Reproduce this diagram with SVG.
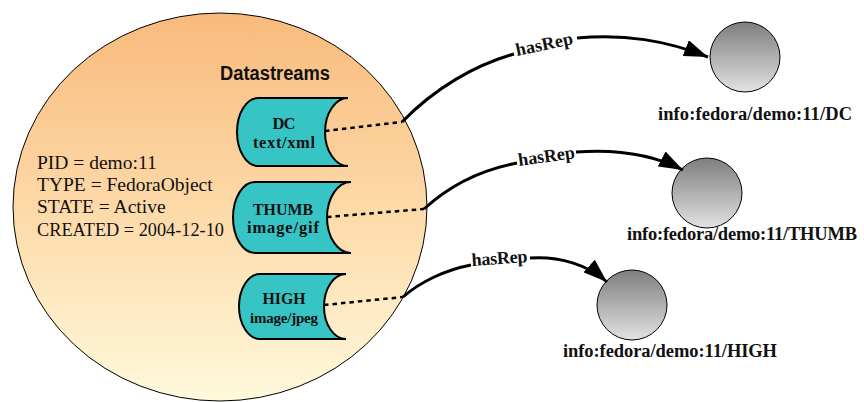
<svg xmlns="http://www.w3.org/2000/svg" width="864" height="402" viewBox="0 0 864 402">
<defs>
<linearGradient id="objGrad" x1="0" y1="0" x2="0" y2="1">
<stop offset="0" stop-color="#F8BA7C"/>
<stop offset="0.5" stop-color="#FDD9A8"/>
<stop offset="1" stop-color="#FFF9DC"/>
</linearGradient>
<linearGradient id="nodeGrad" x1="0" y1="0" x2="0" y2="1">
<stop offset="0" stop-color="#7E7E7E"/>
<stop offset="1" stop-color="#E2E2E2"/>
</linearGradient>
<marker id="arrow" markerUnits="userSpaceOnUse" viewBox="0 0 24 17" refX="24" refY="8.5" markerWidth="24" markerHeight="17" orient="auto">
<path d="M0,0 L24,8.5 L0,17 Z" fill="#000"/>
</marker>
<style>
.ds{fill:#36C4C4;stroke:#000;stroke-width:2}
.dst{font-family:"Liberation Serif","Times New Roman",serif;font-weight:bold;font-size:16.5px;fill:#111;text-anchor:middle}
.prop{font-family:"Liberation Serif","Times New Roman",serif;font-size:19.5px;fill:#111}
.dot{fill:none;stroke:#000;stroke-width:2.5;stroke-dasharray:4.5 4}
.edge{fill:none;stroke:#000;stroke-width:3}
.lbl{font-family:"Liberation Serif","Times New Roman",serif;font-weight:bold;font-size:18px;fill:#111}
.res{fill:url(#nodeGrad);stroke:#000;stroke-width:1}
.rest{font-family:"Liberation Serif","Times New Roman",serif;font-weight:bold;font-size:18.5px;fill:#111;text-anchor:middle}
</style>
</defs>
<rect width="864" height="402" fill="#fff"/>
<g id="object">
<ellipse cx="220" cy="207" rx="207" ry="194" fill="url(#objGrad)" stroke="#000" stroke-width="1"/>
<text class="prop" x="37" y="169">PID = demo:11</text>
<text class="prop" x="37" y="191">TYPE = FedoraObject</text>
<text class="prop" x="37" y="213">STATE = Active</text>
<text class="prop" x="37" y="236" textLength="187" lengthAdjust="spacingAndGlyphs">CREATED = 2004-12-10</text>
<text x="220" y="80" font-family="'Liberation Sans',Arial,sans-serif" font-weight="bold" font-size="20" fill="#111" textLength="110" lengthAdjust="spacingAndGlyphs">Datastreams</text>
</g>
<g id="ds-DC">
<path class="ds" d="M348,98 L258,98 A21,34 0 0 0 258,166 L348,166 A23,34 0 0 1 348,98 Z"/>
<text class="dst" x="284" y="129" textLength="23">DC</text>
<text class="dst" x="284" y="148" textLength="62">text/xml</text>
</g>
<g id="ds-THUMB">
<path class="ds" d="M351,182 L255,182 A22,35.5 0 0 0 255,253 L351,253 A24,35.5 0 0 1 351,182 Z"/>
<text class="dst" x="283" y="215" textLength="60" lengthAdjust="spacingAndGlyphs">THUMB</text>
<text class="dst" x="283" y="233" textLength="72">image/gif</text>
</g>
<g id="ds-HIGH">
<path class="ds" d="M346,274 L260,274 A21,32.5 0 0 0 260,339 L346,339 A22,32.5 0 0 1 346,274 Z"/>
<text class="dst" x="284" y="304" textLength="43" lengthAdjust="spacingAndGlyphs">HIGH</text>
<text class="dst" x="284" y="323" style="font-size:15px" textLength="68">image/jpeg</text>
</g>
<g id="res-DC">
<circle class="res" cx="745" cy="57" r="35"/>
<text class="rest" x="755" y="120" textLength="194">info:fedora/demo:11/DC</text>
</g>
<g id="res-THUMB">
<circle class="res" cx="707" cy="193" r="35"/>
<text class="rest" x="742" y="240" textLength="230">info:fedora/demo:11/THUMB</text>
</g>
<g id="res-HIGH">
<circle class="res" cx="632" cy="305" r="35"/>
<text class="rest" x="670" y="357" textLength="214">info:fedora/demo:11/HIGH</text>
</g>
<g id="connectors">
<path class="dot" d="M325,131 L402,122"/>
<path class="edge" d="M402,122 C435,88 475,65 514,54"/>
<path class="edge" d="M577,38 C625,34 665,40 708,57" marker-end="url(#arrow)"/>
<text class="lbl" transform="translate(517,56) rotate(-12)" textLength="58">hasRep</text>
<path class="dot" d="M327,217 L424,209"/>
<path class="edge" d="M424,209 C450,185 480,170 517,163"/>
<path class="edge" d="M576,152 C615,149 650,153 683,170" marker-end="url(#arrow)"/>
<text class="lbl" transform="translate(519,166) rotate(-8)" textLength="57">hasRep</text>
<path class="dot" d="M324,305 L403,297"/>
<path class="edge" d="M403,297 C420,282 445,270 471,265"/>
<path class="edge" d="M530,258 C560,256 588,265 607,282" marker-end="url(#arrow)"/>
<text class="lbl" transform="translate(472,266) rotate(-4)" textLength="56">hasRep</text>
</g>
</svg>
